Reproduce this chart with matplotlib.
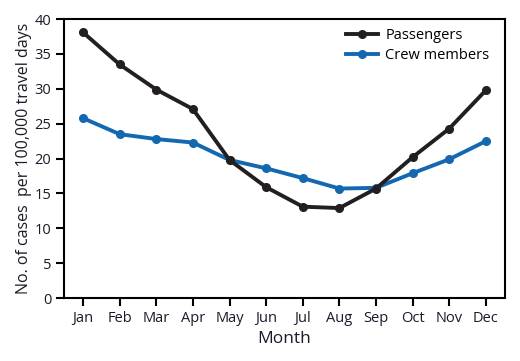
import matplotlib.pyplot as plt
import numpy as np

plt.rcParams['font.family'] = ['Open Sans', 'DejaVu Sans']

months = ["Jan", "Feb", "Mar", "Apr", "May", "Jun", "Jul", "Aug", "Sep", "Oct", "Nov", "Dec"]
passengers = [38.1, 33.5, 29.9, 27.1, 19.8, 15.9, 13.1, 12.9, 15.7, 20.2, 24.3, 29.8]
crew = [25.8, 23.5, 22.8, 22.3, 19.8, 18.6, 17.2, 15.7, 15.8, 17.9, 19.9, 22.5]

text_color = "#1a1a2a"
x = np.arange(len(months))

fig = plt.figure(figsize=(5.2, 3.61), dpi=100)
ax = fig.add_axes([0.123, 0.1745, 0.848, 0.7725])

ax.plot(x, passengers, color="#231f20", lw=2.8, marker="o", ms=5.5, label="Passengers", zorder=3)
ax.plot(x, crew, color="#1468b0", lw=2.8, marker="o", ms=5.5, label="Crew members", zorder=2)

ax.set_xlim(-0.52, 11.52)
ax.set_ylim(0, 40)
ax.set_yticks(range(0, 41, 5))
ax.set_xticks(x)
ax.set_xticklabels(months)
ax.tick_params(direction="out", length=6, width=1.5, labelsize=10.5, colors="black", labelcolor=text_color, pad=3)
for s in ax.spines.values():
    s.set_linewidth(1.5)

ax.set_xlabel("Month", fontsize=12.5, color=text_color, labelpad=4)
ax.set_ylabel("No. of cases  per 100,000 travel days", fontsize=11.5, color=text_color, labelpad=2)

ax.legend(loc="upper right", frameon=False, fontsize=10.5, handlelength=2.2, handletextpad=0.5,
          borderaxespad=0.2, labelspacing=0.35, bbox_to_anchor=(0.985, 1.0))

fig.savefig("out.png", dpi=100)
